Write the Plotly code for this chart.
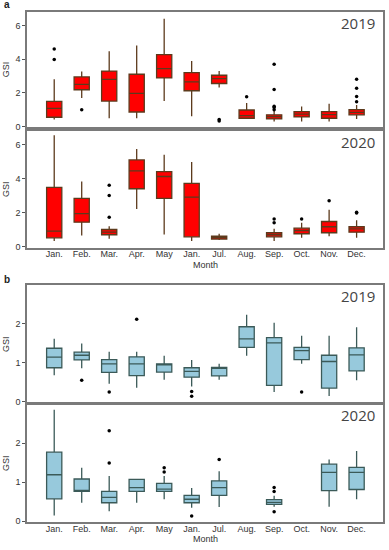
import plotly.graph_objects as go

months = ["Jan.", "Feb.", "Mar.", "Apr.", "May", "Jan.", "Jul.", "Aug.", "Sep.", "Oct.", "Nov.", "Dec."]

# Panel a, 2019 (index of month, q1, median, q3, lower, upper)
a19_x = [0, 1, 2, 3, 4, 5, 6, 7, 8, 9, 10, 11]
a19_q1 = [0.55, 2.18, 1.51, 0.86, 2.88, 2.12, 2.55, 0.49, 0.45, 0.57, 0.49, 0.69]
a19_med = [1.08, 2.50, 2.80, 1.96, 3.43, 2.65, 2.84, 0.65, 0.59, 0.73, 0.71, 0.84]
a19_q3 = [1.49, 2.94, 3.29, 3.10, 4.27, 3.20, 3.04, 0.98, 0.69, 0.88, 0.88, 1.00]
a19_lo = [0.41, 1.69, 0.49, 0.49, 1.51, 0.61, 2.31, 0.45, 0.29, 0.29, 0.29, 0.45]
a19_hi = [2.80, 3.27, 4.47, 4.80, 6.39, 3.88, 3.29, 1.39, 1.04, 1.18, 1.35, 1.27]
a19_out_x = [0, 0, 1, 6, 6, 7, 8, 8, 8, 8, 8, 11, 11, 11, 11]
a19_out_y = [3.98, 4.60, 1.00, 0.41, 0.33, 1.76, 1.00, 1.12, 1.20, 2.20, 3.69, 1.47, 1.78, 2.27, 2.80]

# Panel a, 2020 (no August data)
a20_x = [0, 1, 2, 3, 4, 5, 6, 8, 9, 10, 11]
a20_q1 = [0.52, 1.44, 0.70, 3.40, 2.83, 0.58, 0.45, 0.58, 0.76, 0.82, 0.85]
a20_med = [0.91, 1.94, 0.85, 4.45, 4.12, 2.91, 0.54, 0.70, 0.95, 1.17, 1.05]
a20_q3 = [3.48, 2.83, 1.01, 5.09, 4.41, 3.71, 0.62, 0.82, 1.09, 1.48, 1.17]
a20_lo = [0.33, 0.66, 0.47, 2.21, 0.72, 0.33, 0.39, 0.33, 0.52, 0.62, 0.52]
a20_hi = [6.54, 3.83, 1.20, 5.73, 5.40, 4.97, 0.76, 1.05, 1.40, 2.17, 1.55]
a20_out_x = [2, 2, 2, 8, 8, 9, 10, 11, 11]
a20_out_y = [1.73, 3.01, 3.61, 1.40, 1.63, 1.63, 2.70, 1.98, 2.02]

# Panel b, 2019
b19_x = [0, 1, 2, 3, 4, 5, 6, 7, 8, 9, 10, 11]
b19_q1 = [0.87, 1.07, 0.75, 0.67, 0.76, 0.63, 0.66, 1.39, 0.42, 1.08, 0.35, 0.79]
b19_med = [1.14, 1.19, 0.97, 0.97, 0.96, 0.78, 0.87, 1.61, 1.51, 1.31, 1.03, 1.20]
b19_q3 = [1.37, 1.27, 1.08, 1.15, 0.97, 0.87, 0.88, 1.92, 1.64, 1.39, 1.19, 1.38]
b19_lo = [0.68, 0.86, 0.46, 0.36, 0.56, 0.39, 0.56, 1.18, 0.25, 0.97, 0.15, 0.55]
b19_hi = [1.61, 1.49, 1.28, 1.28, 1.18, 1.07, 0.97, 2.23, 2.02, 1.69, 1.69, 1.91]
b19_out_x = [1, 2, 3, 5, 5, 9]
b19_out_y = [0.55, 0.25, 2.11, 0.26, 0.14, 0.25]

# Panel b, 2020 (no August / October data)
b20_x = [0, 1, 2, 3, 4, 5, 6, 8, 10, 11]
b20_q1 = [0.57, 0.76, 0.47, 0.76, 0.76, 0.47, 0.66, 0.43, 0.78, 0.81]
b20_med = [1.19, 0.78, 0.61, 0.86, 0.82, 0.56, 0.86, 0.48, 1.25, 1.25]
b20_q3 = [1.77, 1.08, 0.76, 1.07, 0.97, 0.66, 1.03, 0.55, 1.46, 1.38]
b20_lo = [0.14, 0.47, 0.25, 0.47, 0.56, 0.34, 0.36, 0.37, 0.37, 0.56]
b20_hi = [2.86, 1.37, 1.16, 1.07, 1.16, 0.85, 1.28, 0.65, 1.58, 1.80]
b20_out_x = [2, 2, 4, 4, 5, 6, 8, 8, 8]
b20_out_y = [1.49, 2.32, 1.26, 1.37, 0.13, 1.58, 0.76, 0.86, 0.24]

years = ["2019", "2020", "2019", "2020"]

W, H = 389, 550
panels = [
    dict(x=a19_x, q1=a19_q1, med=a19_med, q3=a19_q3, lo=a19_lo, hi=a19_hi, ox=a19_out_x, oy=a19_out_y,
         fill="#ff0000", line="#5c3a1c", top=12, bot=128, yr=[-0.02, 6.8], tv=[0, 2, 4, 6], xt=False),
    dict(x=a20_x, q1=a20_q1, med=a20_med, q3=a20_q3, lo=a20_lo, hi=a20_hi, ox=a20_out_x, oy=a20_out_y,
         fill="#ff0000", line="#5c3a1c", top=132, bot=250, yr=[-0.06, 6.8], tv=[0, 2, 4, 6], xt=True),
    dict(x=b19_x, q1=b19_q1, med=b19_med, q3=b19_q3, lo=b19_lo, hi=b19_hi, ox=b19_out_x, oy=b19_out_y,
         fill="#97c9dc", line="#3b5a58", top=288, bot=407, yr=[-0.04, 2.98], tv=[0, 1, 2], xt=False),
    dict(x=b20_x, q1=b20_q1, med=b20_med, q3=b20_q3, lo=b20_lo, hi=b20_hi, ox=b20_out_x, oy=b20_out_y,
         fill="#97c9dc", line="#3b5a58", top=408, bot=527, yr=[-0.03, 3.0], tv=[0, 1, 2], xt=True),
]

fig = go.Figure()
L, R = 27, 383
layout = dict(width=W, height=H, margin=dict(l=L, r=W - R, t=0, b=0),
              paper_bgcolor="white", plot_bgcolor="white", showlegend=False, boxgap=0.21)
annotations = []
for i, p in enumerate(panels):
    n = i + 1
    xa = "x" if n == 1 else f"x{n}"
    ya = "y" if n == 1 else f"y{n}"
    fig.add_trace(go.Box(x=p["x"], q1=p["q1"], median=p["med"], q3=p["q3"],
                         lowerfence=p["lo"], upperfence=p["hi"],
                         fillcolor=p["fill"], line=dict(color=p["line"], width=1.3),
                         whiskerwidth=0, boxpoints=False, hoverinfo="skip",
                         xaxis=xa, yaxis=ya))
    fig.add_trace(go.Scatter(x=p["ox"], y=p["oy"], mode="markers",
                             marker=dict(color="black", size=3.5), hoverinfo="skip",
                             xaxis=xa, yaxis=ya))
    dom = [1 - p["bot"] / H, 1 - p["top"] / H]
    key = "" if n == 1 else str(n)
    layout["xaxis" + key] = dict(domain=[0, 1], range=[-0.99, 11.96], anchor=ya,
                                 tickvals=list(range(12)), ticktext=months,
                                 showticklabels=p["xt"], ticks="", ticklabelstandoff=-3,
                                 showgrid=False, zeroline=False, showline=True, mirror=True,
                                 linecolor="#7a7a7a", linewidth=1.5,
                                 tickfont=dict(family="Liberation Sans, Arial", size=9, color="#333"))
    layout["yaxis" + key] = dict(domain=dom, range=p["yr"], anchor=xa, tickvals=p["tv"],
                                 ticks="outside", ticklen=3, tickcolor="#555",
                                 showgrid=False, zeroline=False, showline=True, mirror=True,
                                 linecolor="#7a7a7a", linewidth=1.5,
                                 tickfont=dict(family="Liberation Sans, Arial", size=9, color="#333"),
                                 title=dict(text="GSI", standoff=4,
                                            font=dict(family="Liberation Sans, Arial", size=9, color="#333")))
    annotations.append(dict(text=years[i], xref="paper", yref="paper", x=(377 - L) / (R - L),
                            y=1 - (p["top"] + 11) / H, xanchor="right", yanchor="middle",
                            showarrow=False, font=dict(family="Open Sans, DejaVu Sans", size=15, color="#444")))

for ylab in (267, 544):
    annotations.append(dict(text="Month", xref="paper", yref="paper", x=0.5, y=1 - ylab / H,
                            xanchor="center", yanchor="middle", showarrow=False,
                            font=dict(family="Liberation Sans, Arial", size=9, color="#333")))
for lab, yy in (("a", 5), ("b", 282)):
    annotations.append(dict(text=f"<b>{lab}</b>", xref="paper", yref="paper", x=(2 - L) / (R - L),
                            y=1 - yy / H, xanchor="left", yanchor="middle", showarrow=False,
                            font=dict(family="Liberation Sans, Arial", size=10, color="#222")))
layout["annotations"] = annotations
fig.update_layout(**layout)
fig.write_html("out.html", config={"displayModeBar": False},
               post_script="document.body.style.margin='0';document.body.style.overflow='hidden';")
